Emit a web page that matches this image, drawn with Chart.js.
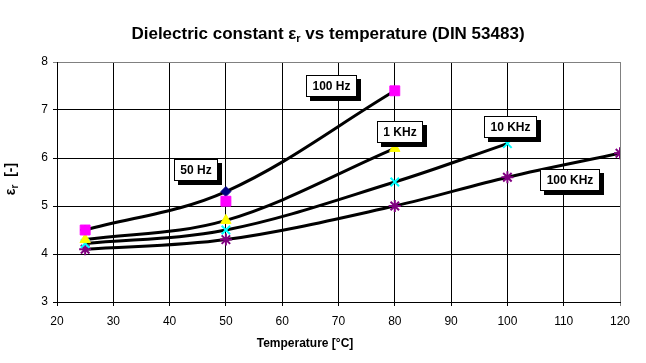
<!DOCTYPE html>
<html><head><meta charset="utf-8">
<script src="https://cdn.jsdelivr.net/npm/chart.js@4/dist/chart.umd.min.js"></script>
<style>html,body{margin:0;padding:0;background:#fff}canvas{display:block}</style>
</head><body>
<canvas id="c" width="646" height="363"></canvas>
<script>
// ---- data (temperature °C / dielectric constant) ----
const hz50T  = [25, 50];
const hz50E  = [4.5, 5.3];
const hz100T = [25, 50, 80];
const hz100E = [4.5, 5.1, 7.4];
const k1T    = [25, 50, 80];
const k1E    = [4.3, 4.7, 6.2];
const k10T   = [25, 50, 80, 100];
const k10E   = [4.22, 4.5, 5.5, 6.3];
const k100T  = [25, 50, 80, 100, 120];
const k100E  = [4.1, 4.3, 5.0, 5.6, 6.1];
const seriesNames = ['50 Hz', '100 Hz', '1 KHz', '10 KHz', '100 KHz'];
// label anchors (data units)
const labelX = [44.7, 68.8, 80.9, 100.6, 111.1];
const labelY = [5.75, 7.49, 6.55, 6.65, 5.54];

const pts = (t, e) => t.map((v, i) => ({x: v, y: e[i]}));
const p50 = pts(hz50T, hz50E), p100 = pts(hz100T, hz100E), p1k = pts(k1T, k1E),
      p10k = pts(k10T, k10E), p100k = pts(k100T, k100E);
// top curve: 50 Hz points continuing to the 100 Hz end point
const topCurve = p50.concat([p100[p100.length - 1]]);

const FONT = "'Liberation Sans', Arial, sans-serif";
const lineDs = (data, ord) => ({data, showLine: true, borderColor: '#000', borderWidth: 3,
  pointRadius: 0, tension: 0.35, order: ord});
const markDs = (data, style, r, bg, bc, bw, ord) => ({data, showLine: false, pointStyle: style,
  pointRadius: r, pointBackgroundColor: bg, pointBorderColor: bc, pointBorderWidth: bw, order: ord});

const overlay = {
  id: 'overlay',
  afterDraw(chart) {
    const ctx = chart.ctx, xs = chart.scales.x, ys = chart.scales.y;
    ctx.save();
    ctx.fillStyle = '#000';
    ctx.textBaseline = 'alphabetic';
    const drawParts = (parts, x, y, center) => {
      let total = 0;
      parts.forEach(p => { ctx.font = p.f; total += ctx.measureText(p.t).width; });
      let cx = center ? x - total / 2 : x;
      parts.forEach(p => { ctx.font = p.f; ctx.fillText(p.t, cx, y + (p.dy || 0)); cx += ctx.measureText(p.t).width; });
    };
    const tb = 'bold 17px ' + FONT, ts = 'bold 11px ' + FONT;
    drawParts([{t: 'Dielectric constant ε', f: tb}, {t: 'r', f: ts, dy: 3},
               {t: ' vs temperature (DIN 53483)', f: tb}], 328, 39, true);
    // y title
    ctx.save();
    ctx.translate(15, 179);
    ctx.rotate(-Math.PI / 2);
    drawParts([{t: 'ε', f: 'bold 14px ' + FONT}, {t: 'r', f: 'bold 10px ' + FONT, dy: 3},
               {t: '  [-]', f: 'bold 14px ' + FONT}], 0, 0, true);
    ctx.restore();
    // x title
    ctx.font = 'bold 12px ' + FONT;
    ctx.textAlign = 'center';
    ctx.fillText('Temperature [°C]', 305, 347);
    // series labels
    ctx.font = 'bold 12px ' + FONT;
    ctx.textAlign = 'center';
    ctx.textBaseline = 'middle';
    seriesNames.forEach((name, i) => {
      const cx = xs.getPixelForValue(labelX[i]), cy = ys.getPixelForValue(labelY[i]);
      const w = Math.round(ctx.measureText(name).width + 13), h = 22;
      const x0 = Math.round(cx - w / 2), y0 = Math.round(cy - h / 2);
      ctx.fillStyle = '#000';
      ctx.fillRect(x0 + 4, y0 + 4, w, h);
      ctx.fillStyle = '#fff';
      ctx.fillRect(x0, y0, w, h);
      ctx.strokeStyle = '#000';
      ctx.lineWidth = 1;
      ctx.strokeRect(x0 + 0.5, y0 + 0.5, w - 1, h - 1);
      ctx.fillStyle = '#000';
      ctx.fillText(name, x0 + w / 2, y0 + h / 2 + 1);
    });
    ctx.restore();
  }
};

new Chart(document.getElementById('c'), {
  type: 'scatter',
  data: {
    datasets: [
      lineDs(topCurve, 10), lineDs(p1k, 10), lineDs(p10k, 10), lineDs(p100k, 10),
      markDs(p100k, 'star', 6, '#800080', '#800080', 2, 6),
      markDs(p10k, 'crossRot', 6, '#00FFFF', '#00FFFF', 2, 5),
      markDs(p1k, 'triangle', 6, '#FFFF00', '#FFFF00', 1, 4),
      markDs(p50, 'rectRot', 5, '#000080', '#000080', 1, 3),
      markDs(p100, 'rect', 7, '#FF00FF', '#FF00FF', 1, 1)
    ]
  },
  options: {
    responsive: false, animation: false, devicePixelRatio: 1,
    layout: {padding: {top: 62, right: 26, left: 0, bottom: 0}},
    plugins: {legend: {display: false}, title: {display: false}, tooltip: {enabled: false}},
    scales: {
      x: {
        type: 'linear', min: 20, max: 120,
        ticks: {stepSize: 10, color: '#000', font: {family: FONT, size: 12}, maxRotation: 0, padding: 8},
        grid: {color: c => (c.tick && c.tick.value === 120) ? '#808080' : '#000', lineWidth: 1, tickLength: 4},
        border: {color: '#000', width: 1},
        afterFit: s => { s.height = 61; }
      },
      y: {
        type: 'linear', min: 3, max: 8,
        ticks: {stepSize: 1, color: '#000', font: {family: FONT, size: 12}, padding: 5},
        grid: {color: c => (c.tick && c.tick.value === 8) ? '#808080' : '#000', lineWidth: 1, tickLength: 4},
        border: {color: '#000', width: 1},
        afterFit: s => { s.width = 57; }
      }
    }
  },
  plugins: [overlay]
});
</script>
</body></html>
